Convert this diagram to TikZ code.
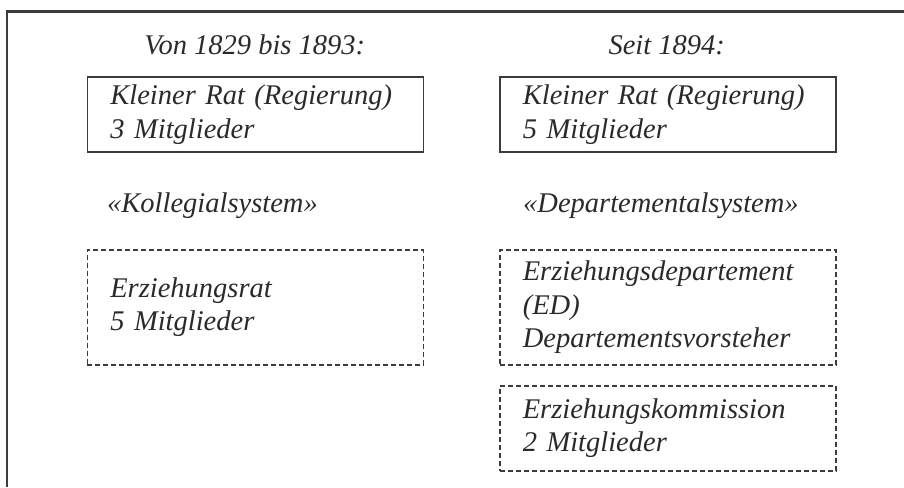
\documentclass[tikz,border=0pt]{standalone}
\usepackage{fontspec}
\setmainfont{Liberation Serif}
\usetikzlibrary{positioning}
\tikzset{every node/.append style={execute at begin node={\hyphenpenalty=10000\exhyphenpenalty=10000\relax}}}
\definecolor{rahmen}{HTML}{3C3C3C}
\definecolor{schrift}{HTML}{2A2A2A}

\begin{document}
\begin{tikzpicture}[x=1pt, y=-1pt, font=\fontsize{28.5}{33.5}\selectfont\itshape, text=schrift,
    organ/.style={draw=rahmen, line width=1.8pt, anchor=north west, minimum width=336pt,
      text width=290pt, inner xsep=23pt, align=left},
    kommission/.style={organ, dash pattern=on 5pt off 3pt, line width=1.6pt}]
  \useasboundingbox (0,0) rectangle (904,487);
  \draw[rahmen, line width=2.2pt] (904,11.5) -- (7,11.5) -- (7,487);
  % vor 1894
  \node[anchor=base] (zeit-alt) at (254.75,55) {Von 1829 bis 1893:};
  \node[organ, minimum height=75pt] (rat-alt) at (86.5,76) {Kleiner Rat (Regierung)\\3 Mitglieder};
  \node[anchor=base west, inner sep=0pt] (sys-alt) at (107,212.5) {«Kollegialsystem»};
  \node[kommission, minimum height=115pt] (erz-rat) at (86.5,249) {Erziehungsrat\\5 Mitglieder};
  % seit 1894
  \node[anchor=base] (zeit-neu) at (666.75,55) {Seit 1894:};
  \node[organ, minimum height=75pt] (rat-neu) at (499,76) {Kleiner Rat (Regierung)\\5 Mitglieder};
  \node[anchor=base west, inner sep=0pt] (sys-neu) at (523,212.5) {«Departementalsystem»};
  \node[kommission, minimum height=115pt] (erz-dep) at (499,249)
    {Erziehungsdepartement\\(ED)\\Departementsvorsteher};
  \node[kommission, minimum height=85pt] (erz-kom) at (499,385) {Erziehungskommission\\2 Mitglieder};
\end{tikzpicture}
\end{document}
